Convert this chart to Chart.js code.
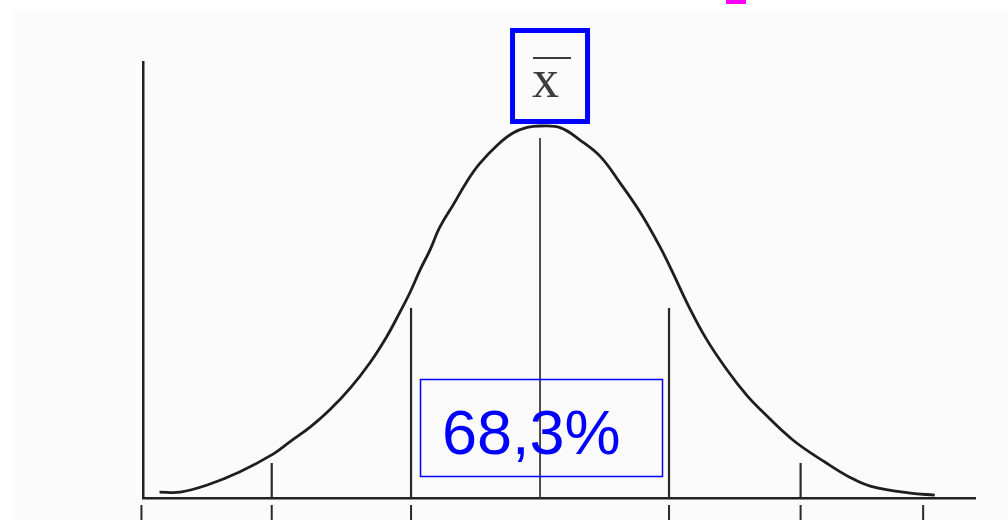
<!DOCTYPE html>
<html>
<head>
<meta charset="utf-8">
<script src="https://cdn.jsdelivr.net/npm/chart.js@4/dist/chart.umd.min.js"></script>
<style>
  html,body{margin:0;padding:0;background:#fff;}
  #wrap{width:1008px;height:520px;}
</style>
</head>
<body>
<div id="wrap"><canvas id="bell" width="1008" height="520"></canvas></div>
<script>
// bell curve, x in standard deviations from the mean, y as % of peak height
const curveX=[-2.95,-2.79,-2.58,-2.33,-2.07,-1.94,-1.78,-1.63,-1.47,-1.32,-1.19,-1.09,-1.01,-0.93,-0.85,-0.78,-0.67,-0.57,-0.47,-0.33,-0.21,-0.10,0,0.16,0.31,0.47,0.62,0.78,0.93,1.03,1.14,1.29,1.45,1.60,1.71,1.96,2.22,2.40,2.56,2.87,3.06];
const curveY=[1.6,1.6,3.5,7.0,11.8,15.1,19.1,23.7,29.6,36.3,43.3,49.7,55.1,61.3,66.9,72.6,79.0,84.9,89.8,94.9,98.1,99.6,100,99.5,96.2,91.7,84.7,76.6,67.5,60.5,52.4,42.7,34.4,27.7,23.7,15.6,9.4,5.6,3.2,1.3,0.8];

// vertical markers at -2s, -1s, mean, +1s, +2s
const markerX=[-2.08,-1.0,0,1.0,2.02];
const markerTop=[9.4,51.1,96.8,51.1,9.4];

// tick marks under the axis
const tickX=[-3.09,-2.08,-1.0,1.0,2.02,2.97];
const tickFrom=-1.9, tickTo=-6;

const meanLabel='x';
const shareLabel='68,3%';

const ink='#1e1e1e';
const blue='#0000ff';

const datasets=[{
  data:curveX.map((x,i)=>({x,y:curveY[i]})),
  borderColor:ink,borderWidth:2.8,pointRadius:0,
  tension:0.4,fill:false
}];
markerX.forEach((x,i)=>datasets.push({
  data:[{x,y:0},{x,y:markerTop[i]}],
  borderColor:i===2?'#3a3a3a':'#2a2a2a',borderWidth:i===2?1.8:2.2,pointRadius:0
}));
tickX.forEach(x=>datasets.push({
  data:[{x,y:tickFrom},{x,y:tickTo}],
  borderColor:'#2a2a2a',borderWidth:2,pointRadius:0,clip:false
}));

const paper={
  id:'paper',
  beforeDraw(chart){
    const c=chart.ctx;
    c.save();
    c.fillStyle='#fff';c.fillRect(0,0,chart.width,chart.height);
    c.fillStyle='#fbfbfc';c.fillRect(12,10,chart.width-12,chart.height-10);
    c.restore();
  },
  afterDraw(chart){
    const c=chart.ctx, xs=chart.scales.x;
    const mx=xs.getPixelForValue(0);
    c.save();
    // mean label box
    c.strokeStyle=blue;c.lineWidth=5;
    c.strokeRect(mx-27.5,30.5,75,91);
    c.fillStyle='#3c3c3c';
    c.font='54px "Liberation Serif"';
    c.textBaseline='alphabetic';c.textAlign='left';
    c.fillText(meanLabel,mx-8,97);
    c.fillRect(mx-7,57,38,2);
    // share box
    c.lineWidth=1.5;
    c.strokeRect(420.5,379.5,242,97);
    c.fillStyle=blue;
    c.font='63px "Liberation Sans"';
    c.fillText(shareLabel,442,454);
    // small magenta mark at the top edge
    c.fillStyle='#ff00ff';
    c.fillRect(726,0,20,4);
    c.restore();
  }
};

new Chart(document.getElementById('bell'),{
  type:'line',
  data:{datasets},
  options:{
    responsive:false,animation:false,
    layout:{padding:{left:143,top:62,right:33,bottom:22}},
    plugins:{legend:{display:false},tooltip:{enabled:false}},
    scales:{
      x:{type:'linear',min:-3.078,max:3.372,
        grid:{display:false,drawTicks:false},ticks:{display:false},
        border:{display:true,color:'#222',width:2.5}},
      y:{type:'linear',min:0,max:117.2,
        grid:{display:false,drawTicks:false},ticks:{display:false},
        border:{display:true,color:'#222',width:2.5}}
    }
  },
  plugins:[paper]
});
</script>
</body>
</html>
